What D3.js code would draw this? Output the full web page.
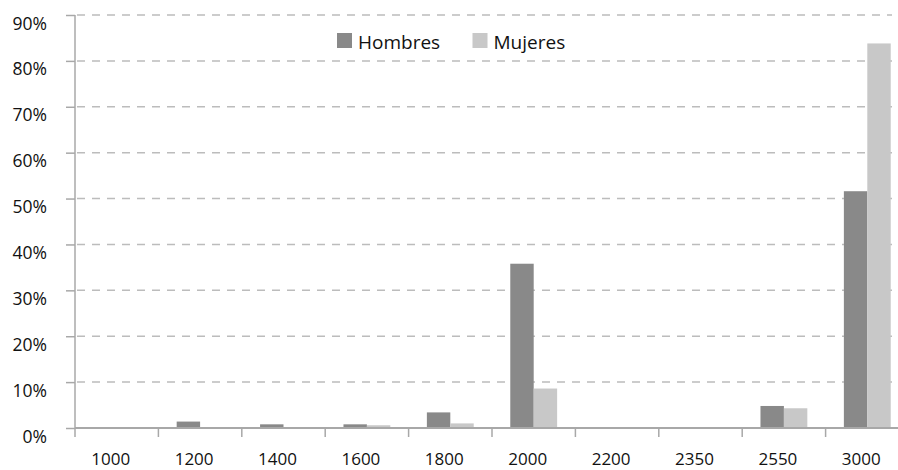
<!DOCTYPE html>
<html><head><meta charset="utf-8">
<script src="https://cdn.jsdelivr.net/npm/d3@7"></script>
<style>body{margin:0;background:#fff}svg{display:block}</style>
</head><body>
<script>
const categories = ["1000","1200","1400","1600","1800","2000","2200","2350","2550","3000"];
const hombres = [0.2, 1.4, 0.8, 0.8, 3.4, 35.8, 0, 0.2, 4.8, 51.6];
const mujeres = [0, 0.2, 0.2, 0.6, 1.0, 8.6, 0, 0, 4.3, 83.8];
const seriesNames = ["Hombres", "Mujeres"];
const yTicks = [0,10,20,30,40,50,60,70,80,90];

const W = 898, H = 470;
const mLeft = 75, mTop = 15, mBottom = 428, mRight = 909;
const colors = {Hombres: "#898989", Mujeres: "#c8c8c8"};
const font = "'Open Sans', 'Liberation Sans', Arial, sans-serif";

const svg = d3.select("body").append("svg").attr("width", W).attr("height", H);

const x = d3.scaleBand().domain(categories).range([mLeft, mRight]).paddingInner(0).paddingOuter(0);
const xs = d3.scaleBand().domain(seriesNames).range([0, x.bandwidth()]).paddingInner(0).paddingOuter(0.78);
const y = d3.scaleLinear().domain([0, 90]).range([mBottom, mTop]);

// gridlines
svg.append("g").selectAll("line").data(yTicks.filter(d => d > 0)).join("line")
  .attr("x1", mLeft + 2).attr("x2", 892)
  .attr("y1", d => y(d)).attr("y2", d => y(d))
  .attr("stroke", "#bcbcbc").attr("stroke-width", 1.5).attr("stroke-dasharray", "8,7");

// bars
const rows = categories.map((c, i) => ({c, vals: [{s: "Hombres", v: hombres[i]}, {s: "Mujeres", v: mujeres[i]}]}));
const g = svg.append("g").selectAll("g").data(rows).join("g").attr("transform", d => `translate(${x(d.c)},0)`);
g.selectAll("rect").data(d => d.vals.filter(e => e.v > 0)).join("rect")
  .attr("x", d => xs(d.s)).attr("width", xs.bandwidth())
  .attr("y", d => y(d.v)).attr("height", d => mBottom - y(d.v))
  .attr("fill", d => colors[d.s]);

// y axis
const yAxis = d3.axisLeft(y).tickValues(yTicks).tickSize(9).tickFormat(d => d + "%");
const ya = svg.append("g").attr("transform", `translate(${mLeft},0)`).call(yAxis);
ya.select(".domain").attr("stroke", "#a8a8a8").attr("stroke-width", 1.5).attr("d", `M0,${mTop}V${mBottom}`);
ya.selectAll(".tick line").attr("stroke", "#a8a8a8").attr("stroke-width", 1.5);
ya.selectAll(".tick text").attr("x", -28).attr("dy", "0.8em").attr("fill", "#111")
  .style("font-family", font).style("font-size", "17.5px");

// x axis
const xa = svg.append("g").attr("transform", `translate(-6,${mBottom})`).call(d3.axisBottom(x).tickSize(0).tickPadding(0));
xa.select(".domain").remove();
xa.selectAll(".tick text").attr("y", 37).attr("dy", 0).attr("fill", "#111")
  .style("font-family", font).style("font-size", "17px");
svg.append("line").attr("x1", mLeft).attr("x2", W).attr("y1", mBottom).attr("y2", mBottom)
  .attr("stroke", "#a8a8a8").attr("stroke-width", 2);
svg.append("g").selectAll("line").data(categories).join("line")
  .attr("x1", d => x(d)).attr("x2", d => x(d)).attr("y1", mBottom).attr("y2", mBottom + 9)
  .attr("stroke", "#a8a8a8").attr("stroke-width", 1.5);

// legend
const legX = [337, 472.5];
const leg = svg.append("g").selectAll("g").data(seriesNames).join("g")
  .attr("transform", (d, i) => `translate(${legX[i]},33)`);
leg.append("rect").attr("width", 15).attr("height", 15).attr("fill", d => colors[d]);
leg.append("text").attr("x", 21).attr("y", 15.5).text(d => d).attr("fill", "#111")
  .style("font-family", font).style("font-size", "19px");
</script>
</body></html>
